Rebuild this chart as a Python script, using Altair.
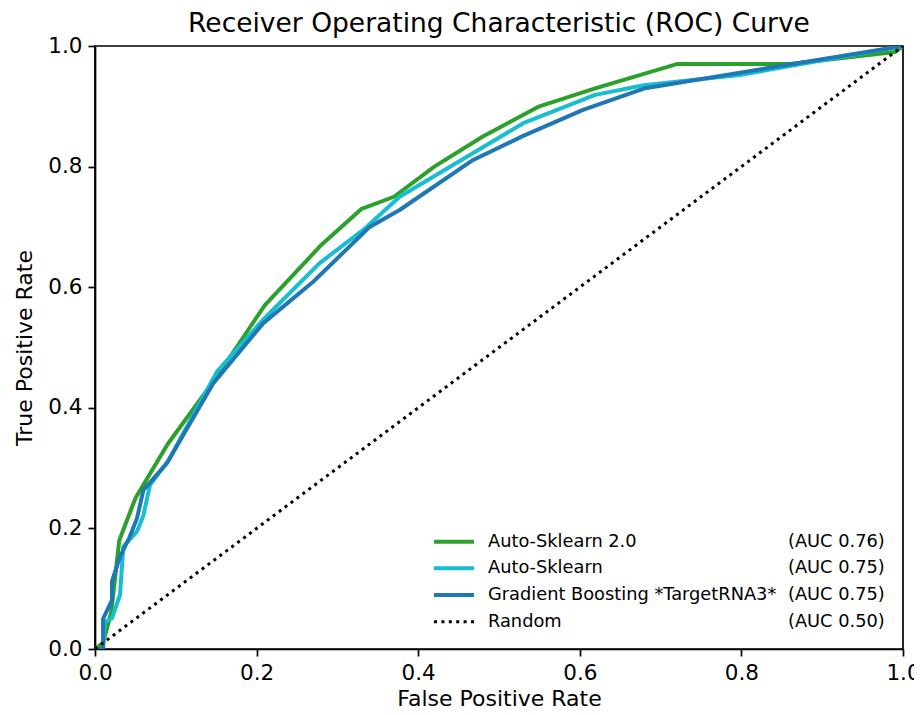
import altair as alt
import pandas as pd

# ---- data ----
as2_fpr = [0, 0.01, 0.02, 0.03, 0.05, 0.09, 0.15, 0.21, 0.28, 0.33, 0.37, 0.42, 0.48, 0.55, 0.62, 0.72, 0.86, 0.99, 1.0]
as2_tpr = [0, 0.01, 0.06, 0.18, 0.25, 0.34, 0.45, 0.57, 0.67, 0.73, 0.75, 0.80, 0.85, 0.90, 0.93, 0.97, 0.97, 0.99, 1.0]

as_fpr = [0, 0.01, 0.012, 0.021, 0.031, 0.035, 0.052, 0.06, 0.068, 0.091, 0.151, 0.208, 0.278, 0.332, 0.377, 0.53, 0.619, 0.679, 0.798, 1.0]
as_tpr = [0, 0.0, 0.045, 0.051, 0.09, 0.17, 0.195, 0.222, 0.272, 0.313, 0.46, 0.546, 0.64, 0.695, 0.75, 0.872, 0.919, 0.935, 0.952, 1.0]

gb_fpr = [0, 0.01, 0.01, 0.021, 0.021, 0.031, 0.043, 0.052, 0.06, 0.089, 0.146, 0.208, 0.27, 0.34, 0.377, 0.468, 0.53, 0.604, 0.681, 1.0]
gb_tpr = [0, 0.0, 0.05, 0.081, 0.112, 0.153, 0.186, 0.217, 0.264, 0.308, 0.44, 0.54, 0.609, 0.70, 0.728, 0.811, 0.851, 0.894, 0.93, 1.0]

rnd_fpr = [0, 1]
rnd_tpr = [0, 1]

title_text = ["Receiver Operating Characteristic (ROC) Curve"]
legend_names = ["Auto-Sklearn 2.0", "Auto-Sklearn", "Gradient Boosting *TargetRNA3*", "Random"]
legend_auc = ["(AUC 0.76)", "(AUC 0.75)", "(AUC 0.75)", "(AUC 0.50)"]
colors = ["#2ca02c", "#17becf", "#1f77b4", "#000000"]

FONT = "DejaVu Sans"
W, H = 808, 603
LW = 4
DOT = [3, 4.4]

xs = alt.Scale(domain=[0, 1], nice=False, zero=False)
ys = alt.Scale(domain=[0, 1], nice=False, zero=False)
ticks = [0, 0.2, 0.4, 0.6, 0.8, 1.0]


def curve(fpr, tpr, color, dash=None, width=LW):
    df = pd.DataFrame({"fpr": fpr, "tpr": tpr, "i": range(len(fpr))})
    kw = dict(color=color, strokeWidth=width, clip=True, strokeJoin="round")
    if dash:
        kw["strokeDash"] = dash
        kw["strokeCap"] = "butt"
    return alt.Chart(df).mark_line(**kw).encode(
        x=alt.X("fpr:Q", scale=xs, title="False Positive Rate",
                axis=alt.Axis(values=ticks, format=".1f")),
        y=alt.Y("tpr:Q", scale=ys, title="True Positive Rate",
                axis=alt.Axis(values=ticks, format=".1f")),
        order="i:Q",
    )


layers = [
    curve(as2_fpr, as2_tpr, colors[0]),
    curve(as_fpr, as_tpr, colors[1]),
    curve(gb_fpr, gb_tpr, colors[2]),
    curve(rnd_fpr, rnd_tpr, colors[3], dash=DOT, width=3),
]

# ---- title as a text mark centred over the plot ----
layers.append(
    alt.Chart(pd.DataFrame({"t": title_text})).mark_text(
        align="center", baseline="alphabetic", font=FONT, fontSize=26.5, color="black"
    ).encode(x=alt.value(W / 2), y=alt.value(-14), text="t:N")
)

# ---- manual legend (lower right, no frame) ----
row_y = [495.7, 522.3, 549.0, 575.7]
for k in range(4):
    ldf = pd.DataFrame({"name": [legend_names[k]], "auc": [legend_auc[k]]})
    base = alt.Chart(ldf)
    if k < 3:
        sym = base.mark_rule(color=colors[k], strokeWidth=LW).encode(
            x=alt.value(339), x2=alt.value(379), y=alt.value(row_y[k]))
    else:
        sym = base.mark_rule(color=colors[k], strokeWidth=3, strokeDash=DOT, strokeCap="butt").encode(
            x=alt.value(339), x2=alt.value(379), y=alt.value(row_y[k]))
    name = base.mark_text(align="left", baseline="middle", font=FONT, fontSize=17.8, color="black").encode(
        x=alt.value(393), y=alt.value(row_y[k]), text="name:N")
    auc = base.mark_text(align="left", baseline="middle", font=FONT, fontSize=17.8, color="black").encode(
        x=alt.value(693), y=alt.value(row_y[k]), text="auc:N")
    layers += [sym, name, auc]

chart = alt.layer(*layers).properties(
    width=W, height=H,
    autosize=alt.AutoSizeParams(type="none"),
    padding={"left": 87, "top": 38, "right": 11, "bottom": 62},
).configure_view(
    stroke="black", strokeWidth=1.7
).configure_axis(
    grid=False, domain=True, domainColor="black", domainWidth=1.7,
    tickColor="black", tickWidth=1.7, tickSize=7, labelFlush=False, labelOverlap=False,
    labelFont=FONT, labelFontSize=21.5, labelColor="black", labelPadding=6,
    titleFont=FONT, titleFontSize=22, titleFontWeight="normal", titleColor="black",
).configure_axisX(titlePadding=5).configure_axisY(titlePadding=11)

chart.save("out.html", embed_options={"renderer": "svg", "actions": False})
